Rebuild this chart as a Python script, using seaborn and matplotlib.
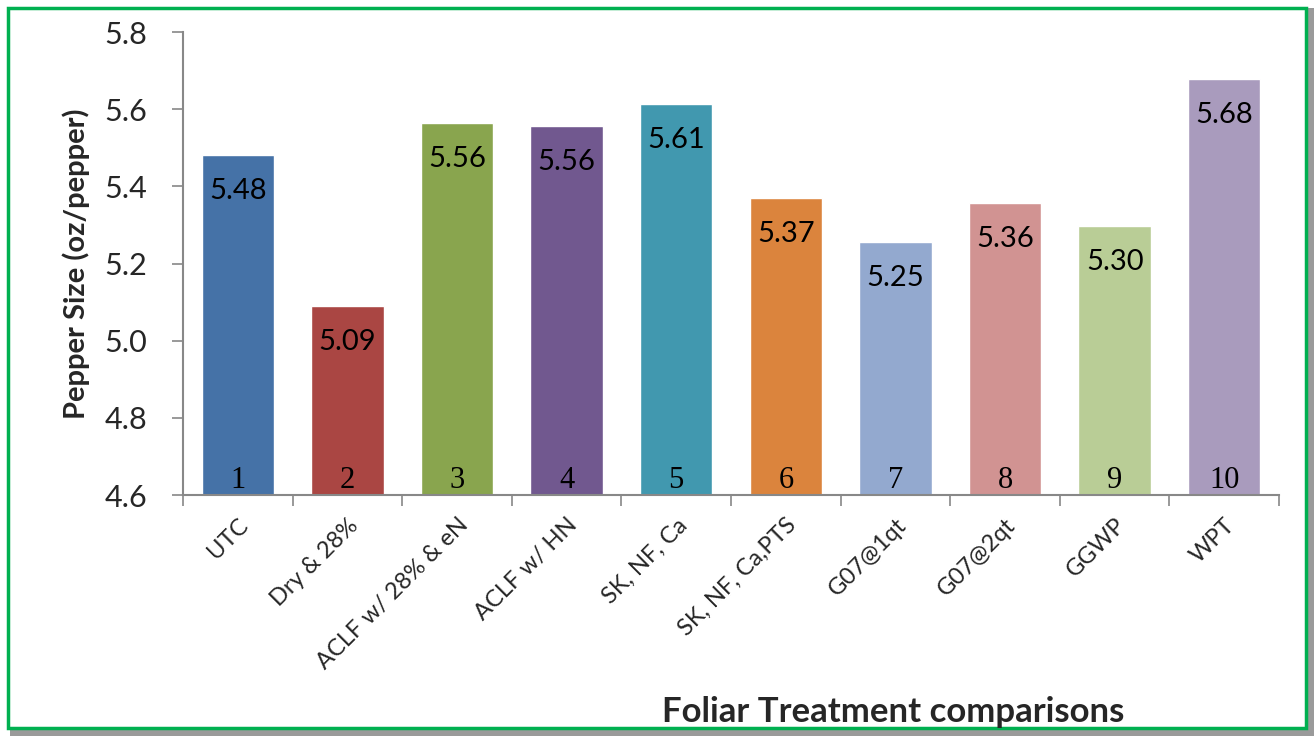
import matplotlib
matplotlib.use("Agg")
import matplotlib.pyplot as plt
from matplotlib.patches import Rectangle
import seaborn as sns
import pandas as pd

categories = ["UTC", "Dry & 28%", "ACLF w/ 28% & eN", "ACLF w/ HN", "SK, NF, Ca",
              "SK, NF, Ca,PTS", "G07@1qt", "G07@2qt", "GGWP", "WPT"]
values = [5.48, 5.09, 5.565, 5.557, 5.613, 5.37, 5.255, 5.358, 5.298, 5.678]
value_labels = ["5.48", "5.09", "5.56", "5.56", "5.61", "5.37", "5.25", "5.36", "5.30", "5.68"]
numbers = ["1", "2", "3", "4", "5", "6", "7", "8", "9", "10"]
colors = ["#4572A7", "#AA4643", "#89A54E", "#71588F", "#4198AF",
          "#DB843D", "#93A9CF", "#D19392", "#B9CD96", "#A99BBD"]
y_ticks = [4.6, 4.8, 5.0, 5.2, 5.4, 5.6, 5.8]

sns.set_theme(style="white")
plt.rcParams['font.family'] = ['Lato', 'DejaVu Sans']

df = pd.DataFrame({"cat": categories, "val": values})

fig = plt.figure(figsize=(13.14, 7.36), dpi=100)
ax = fig.add_axes([0.1393, 0.3274, 0.8341, 0.6291])

sns.barplot(data=df, x="cat", y="val", hue="cat", palette=colors, legend=False,
            width=0.66, saturation=1, ax=ax)

ax.set_ylim(4.6, 5.8)
ax.set_xlim(-0.5, len(categories) - 0.5)
ax.set_yticks(y_ticks)
ax.set_yticklabels([f"{t:.1f}" for t in y_ticks], fontsize=22)
ax.tick_params(axis="y", length=8, width=1.2, color="#888888", pad=18, left=True)

ax.set_xticks([i - 0.5 for i in range(len(categories) + 1)])
ax.set_xticklabels([])
ax.set_xticks(range(len(categories)), minor=True)
ax.set_xticklabels(categories, minor=True, rotation=45, ha="right",
                   rotation_mode="anchor", fontsize=17)
ax.tick_params(axis="x", which="major", length=8, width=1.2, color="#888888", bottom=True)
ax.tick_params(axis="x", which="minor", length=0, pad=14)

for s in ["top", "right"]:
    ax.spines[s].set_visible(False)
for s in ["left", "bottom"]:
    ax.spines[s].set_color("#888888")
    ax.spines[s].set_linewidth(1.5)

for i, (v, lab) in enumerate(zip(values, value_labels)):
    ax.annotate(lab, (i, v), xytext=(0, -36), textcoords="offset pixels",
                ha="center", va="center", fontsize=21, color="black")
    ax.annotate(numbers[i], (i, 4.6), xytext=(0, 0), textcoords="offset pixels",
                ha="center", va="bottom", fontsize=22, color="black",
                family="Liberation Serif")

ax.set_ylabel("Pepper Size (oz/pepper)", fontsize=21, fontweight="bold", labelpad=10)
ax.set_xlabel("")
fig.text(0.68, 0.032, "Foliar Treatment comparisons", ha="center", va="center",
         fontsize=25, fontweight="bold")

# frame with shadow
fig.patches.append(Rectangle((1306/1314, 0), 8/1314, 728/736, transform=fig.transFigure,
                             facecolor="#9a9a9a", edgecolor="none", zorder=0))
fig.patches.append(Rectangle((10/1314, 0), 1304/1314, 8/736, transform=fig.transFigure,
                             facecolor="#9a9a9a", edgecolor="none", zorder=0))
fig.patches.append(Rectangle((8/1314, 8/736), 1298/1314, 720/736, transform=fig.transFigure,
                             facecolor="none", edgecolor="#00B050", linewidth=2.5, zorder=1))

fig.savefig("out.png", dpi=100)
